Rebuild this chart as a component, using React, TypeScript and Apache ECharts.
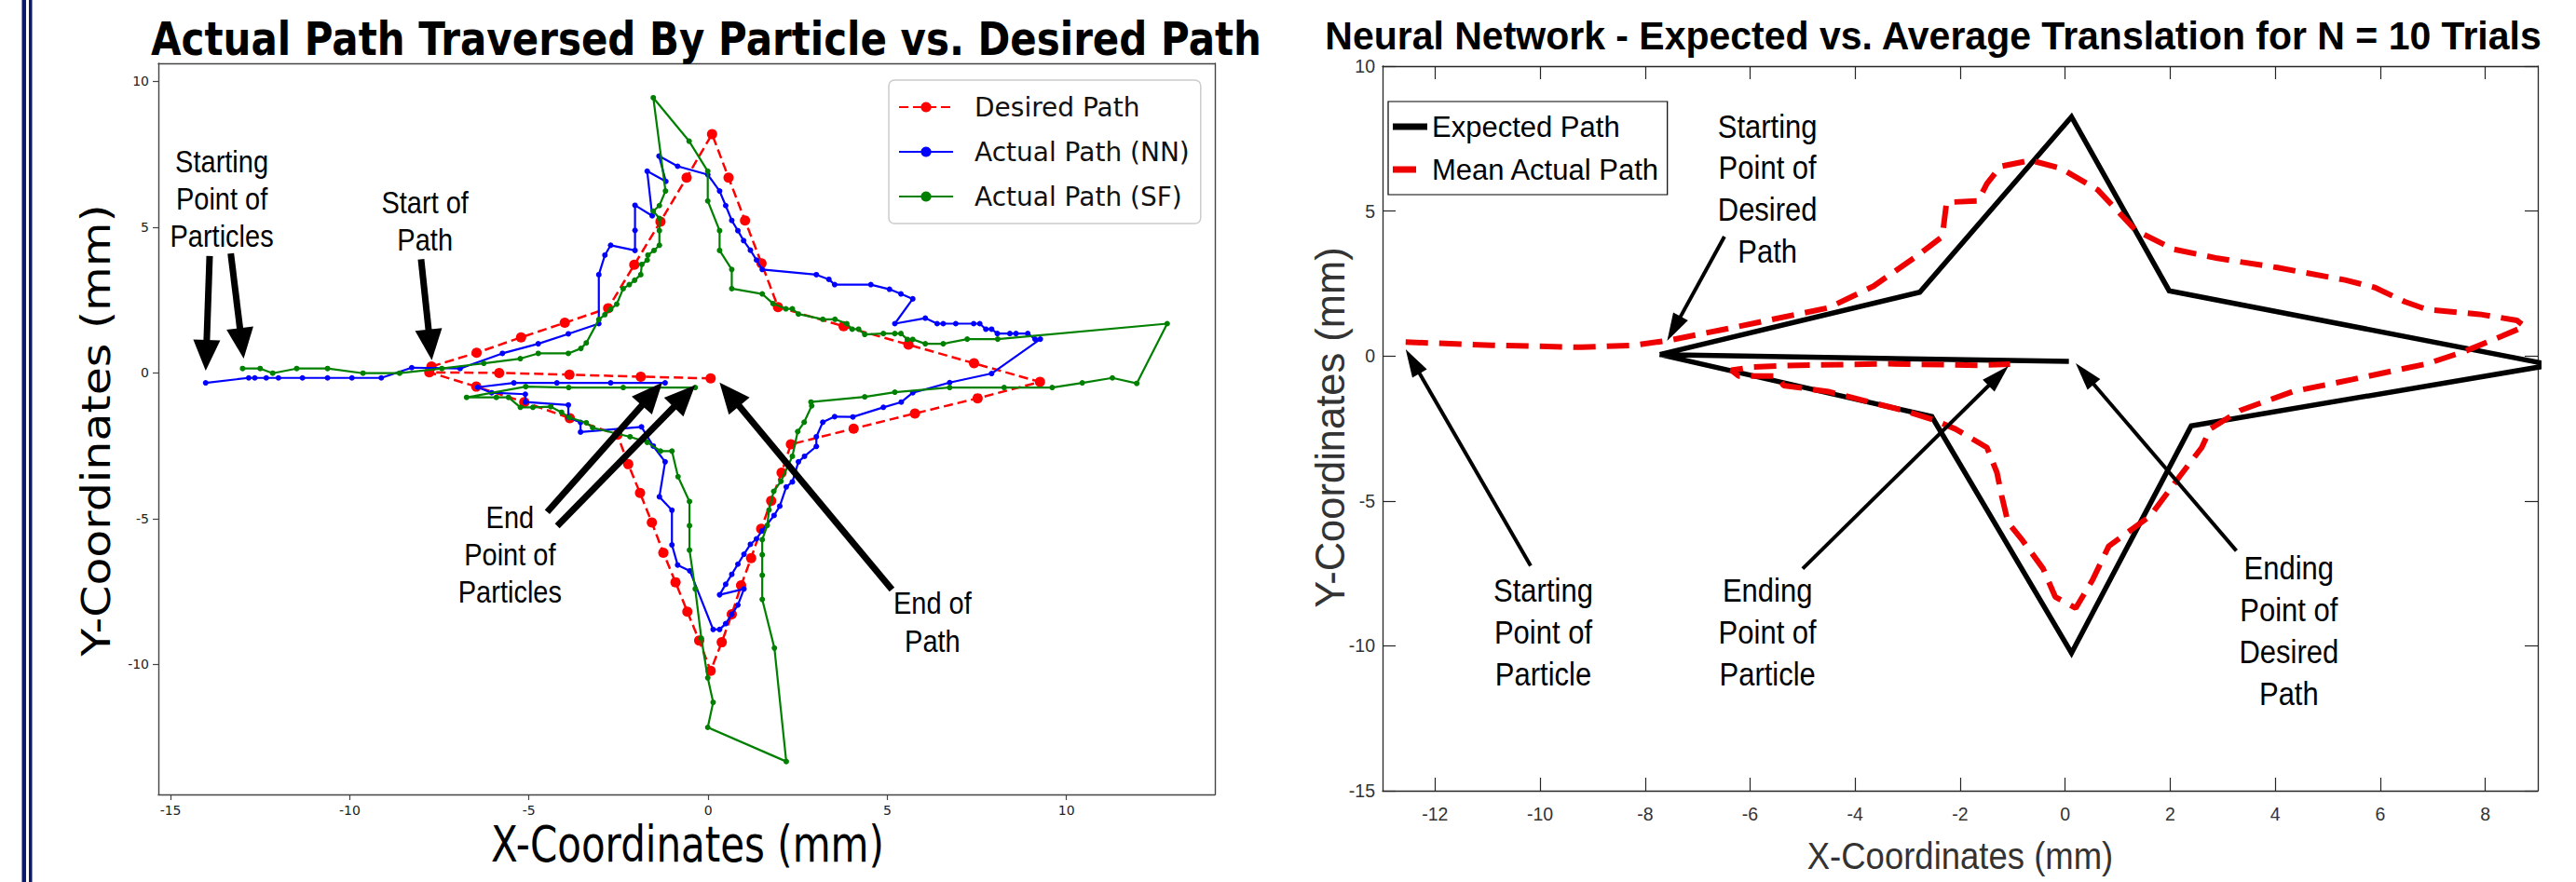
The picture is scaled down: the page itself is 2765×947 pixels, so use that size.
import React, { useEffect, useRef } from "react";
import * as echarts from "echarts";

const W = 2765;
const H = 947;

// ---------- tick values ----------
const leftXTicks = [-15, -10, -5, 0, 5, 10];
const leftYTicks = [-10, -5, 0, 5, 10];
const rightXTicks = [-12, -10, -8, -6, -4, -2, 0, 2, 4, 6, 8];
const rightYTicks = [-15, -10, -5, 0, 5, 10];

// ---------- left chart series ----------
const desiredPath = [
  [-7.72, 0.22], [-6.46, 0.69], [-5.22, 1.22], [-4.0, 1.72], [-2.79, 2.22],
  [-2.06, 3.71], [-1.33, 5.19], [-0.6, 6.7], [0.11, 8.19],
  [0.57, 6.7], [1.03, 5.23], [1.49, 3.76], [1.95, 2.26],
  [3.78, 1.6], [5.59, 0.97], [7.42, 0.33], [9.26, -0.31],
  [7.52, -0.87], [5.77, -1.39], [4.06, -1.91], [2.31, -2.45],
  [2.05, -3.42], [1.76, -4.39], [1.48, -5.35], [1.2, -6.35], [0.92, -7.29], [0.66, -8.28], [0.38, -9.24], [0.07, -10.22],
  [-0.25, -9.18], [-0.58, -8.19], [-0.91, -7.18], [-1.25, -6.17], [-1.57, -5.13], [-1.9, -4.12], [-2.23, -3.13], [-2.53, -2.12],
  [-3.86, -1.55], [-5.13, -1.0], [-6.47, -0.47], [-7.78, 0.02],
  [-5.83, 0.0], [-3.87, -0.06], [-1.88, -0.13], [0.07, -0.19],
];

const nnPath = [
  [-14.02, -0.34], [-12.82, -0.17], [-12.65, -0.17], [-12.33, -0.17], [-11.99, -0.17], [-11.32, -0.17],
  [-10.62, -0.17], [-9.94, -0.17], [-9.12, -0.17], [-8.27, 0.18], [-6.92, 0.15], [-5.74, 0.67],
  [-4.74, 1.0], [-3.9, 1.34], [-3.05, 1.69], [-3.05, 3.37], [-2.88, 4.04], [-2.72, 4.38], [-2.04, 4.2],
  [-2.04, 4.89], [-2.04, 5.75], [-1.56, 5.39], [-1.7, 6.92], [-1.18, 6.57], [-1.37, 7.44], [-0.85, 7.09],
  [-0.01, 6.8], [0.32, 6.24], [0.49, 5.74], [0.66, 5.23], [0.83, 4.88], [0.99, 4.54], [1.18, 4.21],
  [1.35, 3.87], [1.51, 3.55], [3.02, 3.37], [3.37, 3.21], [3.53, 3.03], [4.54, 3.03], [5.06, 2.87],
  [5.38, 2.71], [5.71, 2.54], [5.21, 1.69], [6.06, 1.88], [6.39, 1.69], [6.56, 1.69], [6.91, 1.69],
  [7.41, 1.69], [7.58, 1.69], [7.75, 1.5], [7.91, 1.5], [8.07, 1.35], [8.42, 1.35], [8.59, 1.35],
  [8.92, 1.35], [9.12, 1.16], [9.27, 1.16], [7.91, -0.02], [6.74, -0.33], [5.71, -0.68], [5.39, -1.0],
  [4.89, -1.18], [4.04, -1.51], [3.53, -1.5], [3.2, -1.69], [3.02, -2.19], [3.02, -2.52], [2.69, -2.86],
  [2.52, -3.05], [2.35, -3.74], [2.18, -3.91], [2.0, -4.57], [1.84, -4.89], [1.5, -5.42], [1.35, -5.69],
  [1.18, -5.88], [1.0, -6.22], [0.83, -6.56], [0.66, -6.91], [0.49, -7.25], [0.32, -7.61], [1.0, -7.41],
  [0.83, -7.96], [0.66, -8.28], [0.49, -8.6], [0.32, -8.8], [0.14, -8.8], [-0.51, -6.79], [-0.85, -6.59],
  [-1.01, -5.9], [-1.01, -4.71], [-1.36, -4.25], [-1.2, -3.05], [-1.53, -2.51], [-1.86, -1.85],
  [-3.56, -2.03], [-3.56, -1.7], [-3.9, -1.52], [-3.9, -1.1], [-5.1, -1.0], [-5.1, -0.73], [-6.04, -0.68],
  [-6.43, -0.49], [-5.42, -0.34], [-4.22, -0.34], [-2.72, -0.34], [-1.2, -0.34],
];

const sfPath = [
  [-12.99, 0.15], [-12.5, 0.15], [-12.15, -0.01], [-11.48, 0.15], [-10.62, 0.15], [-9.63, -0.01],
  [-8.61, -0.01], [-7.43, 0.15], [-6.26, 0.33], [-5.24, 0.49], [-4.74, 0.67], [-3.9, 0.67], [-3.55, 0.84],
  [-3.4, 1.03], [-3.05, 1.83], [-2.88, 2.0], [-2.72, 2.18], [-2.55, 2.36], [-2.37, 2.89], [-2.2, 3.03],
  [-2.05, 3.18], [-1.88, 3.37], [-1.85, 3.72], [-1.7, 3.87], [-1.68, 4.04], [-1.51, 4.2], [-1.36, 4.38],
  [-1.36, 4.88], [-1.36, 5.3], [-1.53, 5.55], [-1.36, 5.74], [-1.19, 6.24], [-1.53, 9.44], [-0.53, 7.95],
  [-0.01, 6.92], [-0.01, 5.9], [0.32, 4.88], [0.32, 4.2], [0.66, 3.55], [0.66, 2.89], [1.51, 2.71],
  [1.81, 2.38], [2.17, 2.2], [2.35, 2.2], [2.52, 2.02], [3.2, 1.84], [3.54, 1.84], [3.87, 1.69],
  [4.02, 1.5], [4.2, 1.5], [4.37, 1.32], [4.89, 1.35], [5.21, 1.35], [5.38, 1.35], [5.56, 1.15],
  [5.71, 1.15], [6.06, 1.0], [6.56, 1.0], [7.23, 1.16], [8.08, 1.16], [12.81, 1.69], [11.96, -0.36],
  [11.28, -0.17], [10.44, -0.34], [9.6, -0.5], [8.26, -0.5], [6.74, -0.5], [5.21, -0.66], [4.37, -0.82],
  [2.87, -1.0], [2.89, -1.13], [2.68, -1.69], [2.5, -2.01], [2.35, -2.86], [2.03, -3.72], [1.83, -4.06],
  [1.7, -4.7], [1.65, -5.23], [1.51, -5.72], [1.51, -6.24], [1.51, -6.94], [1.51, -7.77], [1.85, -9.44],
  [2.18, -13.33], [-0.01, -12.16], [0.14, -11.3], [-0.01, -10.46], [-0.19, -9.1], [-0.36, -7.41],
  [-0.52, -6.08], [-0.52, -5.24], [-0.52, -4.41], [-0.84, -3.56], [-1.01, -2.68], [-1.33, -2.68],
  [-1.7, -2.38], [-2.18, -2.19], [-3.22, -1.88], [-3.4, -1.71], [-3.87, -1.53], [-4.09, -1.35],
  [-4.39, -1.16], [-4.89, -1.18], [-5.24, -1.18], [-5.57, -0.84], [-5.91, -0.84], [-6.74, -0.84],
  [-5.09, -0.47], [-3.89, -0.5], [-2.37, -0.5], [-0.36, -0.5],
];

// ---------- right chart series ----------
const expectedPath = [
  [-7.72, 0.05], [-2.77, 2.2], [0.12, 8.25], [1.98, 2.25], [9.26, -0.31], [2.4, -2.41],
  [0.12, -10.25], [-2.54, -2.09], [-7.72, 0.05], [0.07, -0.19],
];

const meanActualPath = [
  [-12.56, 0.48], [-10.92, 0.37], [-9.21, 0.3], [-8.21, 0.37], [-7.57, 0.53], [-6.22, 1.02],
  [-4.51, 1.66], [-3.65, 2.41], [-2.8, 3.48], [-2.34, 4.12], [-2.26, 5.3], [-1.66, 5.35],
  [-1.49, 5.95], [-1.23, 6.54], [-0.66, 6.75], [-0.09, 6.48], [0.62, 5.73], [1.34, 4.34],
  [2.05, 3.69], [2.9, 3.37], [4.04, 3.05], [5.33, 2.62], [5.9, 2.36], [6.47, 1.87], [6.89, 1.6],
  [7.89, 1.44], [8.6, 1.23], [8.75, 1.02], [8.32, 0.69], [7.61, 0.16], [6.89, -0.27], [5.47, -0.81],
  [4.33, -1.23], [3.33, -1.88], [2.76, -2.52], [2.6, -3.16], [2.19, -4.13], [1.62, -5.52],
  [0.83, -6.56], [0.52, -7.73], [0.2, -8.7], [-0.19, -8.31], [-0.42, -7.34], [-0.81, -6.37],
  [-1.09, -5.74], [-1.21, -4.82], [-1.3, -4.02], [-1.49, -3.16], [-2.09, -2.52], [-2.51, -2.2],
  [-3.08, -1.88], [-4.51, -1.23], [-5.36, -1.02], [-5.5, -0.69], [-6.22, -0.69], [-6.36, -0.49],
  [-5.93, -0.38], [-5.08, -0.32], [-3.37, -0.27], [-1.66, -0.32], [-1.05, -0.28],
];

// ---------- annotations (data coordinates) ----------
const leftNotes = [
  { text: "Starting\nPoint of\nParticles", at: [-13.57, 5.96] },
  { text: "Start of\nPath", at: [-7.9, 5.19] },
  { text: "End\nPoint of\nParticles", at: [-5.53, -6.25] },
  { text: "End of\nPath", at: [6.26, -8.56] },
];
const leftArrows = [
  { from: [-13.91, 4.01], to: [-14.02, 0.08] },
  { from: [-13.32, 4.1], to: [-12.96, 0.49] },
  { from: [-8.01, 3.9], to: [-7.71, 0.44] },
  { from: [-4.49, -4.77], to: [-1.28, -0.33] },
  { from: [-4.21, -5.25], to: [-0.36, -0.42] },
  { from: [5.13, -7.43], to: [0.32, -0.33] },
];
const rightNotes = [
  { text: "Starting\nPoint of\nDesired\nPath", at: [-5.67, 5.77] },
  { text: "Starting\nPoint of\nParticle", at: [-9.94, -9.53] },
  { text: "Ending\nPoint of\nParticle", at: [-5.67, -9.53] },
  { text: "Ending\nPoint of\nDesired\nPath", at: [4.26, -9.48] },
];
const rightArrows = [
  { from: [-6.49, 4.12], to: [-7.58, 0.52] },
  { from: [-10.18, -7.24], to: [-12.56, 0.23] },
  { from: [-5.0, -7.34], to: [-1.08, -0.35] },
  { from: [3.26, -6.72], to: [0.2, -0.25] },
];

const leftTitle = "Actual Path Traversed By Particle vs. Desired Path";
const rightTitle = "Neural Network - Expected vs. Average Translation for N = 10 Trials";
const xName = "X-Coordinates (mm)";
const yName = "Y-Coordinates (mm)";

function buildOption(): any {
  const leftLine = { show: true, onZero: false, lineStyle: { color: "#444", width: 1.4 } };
  const rightLine = { show: true, onZero: false, lineStyle: { color: "#262626", width: 1.3 } };
  const leftLabel = { fontSize: 14, color: "#222", fontFamily: "DejaVu Sans" };
  const rightLabel = { fontSize: 19.5, color: "#333", fontFamily: "Liberation Sans" };
  const rTick = { color: "#262626", width: 1.2 };
  return {
    animation: false,
    backgroundColor: "#ffffff",
    grid: [
      { left: 170, top: 68, width: 1134, height: 785 },
      { left: 1484, top: 71, width: 1240, height: 778 },
    ],
    xAxis: [
      {
        type: "value", gridIndex: 0, position: "bottom", min: -15.34, max: 14.14,
        axisLine: leftLine,
        axisTick: { show: true, inside: false, length: 6, customValues: leftXTicks, lineStyle: { color: "#444", width: 1.2 } },
        axisLabel: { show: true, customValues: leftXTicks, margin: 10, ...leftLabel },
        splitLine: { show: false },
      },
      {
        type: "value", gridIndex: 0, position: "top", min: -15.34, max: 14.14,
        axisLine: leftLine, axisTick: { show: false }, axisLabel: { show: false }, splitLine: { show: false },
      },
      {
        type: "value", gridIndex: 1, position: "bottom", min: -13, max: 9,
        axisLine: rightLine,
        axisTick: { show: true, inside: true, length: 14, customValues: rightXTicks, lineStyle: rTick },
        axisLabel: { show: true, customValues: rightXTicks, margin: 15, ...rightLabel },
        splitLine: { show: false },
      },
      {
        type: "value", gridIndex: 1, position: "top", min: -13, max: 9,
        axisLine: rightLine,
        axisTick: { show: true, inside: true, length: 14, customValues: rightXTicks, lineStyle: rTick },
        axisLabel: { show: false }, splitLine: { show: false },
      },
    ],
    yAxis: [
      {
        type: "value", gridIndex: 0, position: "left", min: -14.46, max: 10.62,
        axisLine: leftLine,
        axisTick: { show: true, inside: false, length: 6, customValues: leftYTicks, lineStyle: { color: "#444", width: 1.2 } },
        axisLabel: { show: true, customValues: leftYTicks, margin: 10, ...leftLabel },
        splitLine: { show: false },
      },
      {
        type: "value", gridIndex: 0, position: "right", min: -14.46, max: 10.62,
        axisLine: leftLine, axisTick: { show: false }, axisLabel: { show: false }, splitLine: { show: false },
      },
      {
        type: "value", gridIndex: 1, position: "left", min: -15, max: 10,
        axisLine: rightLine,
        axisTick: { show: true, inside: true, length: 14, customValues: rightYTicks, lineStyle: rTick },
        axisLabel: { show: true, customValues: rightYTicks, margin: 8, ...rightLabel },
        splitLine: { show: false },
      },
      {
        type: "value", gridIndex: 1, position: "right", min: -15, max: 10,
        axisLine: rightLine,
        axisTick: { show: true, inside: true, length: 14, customValues: rightYTicks, lineStyle: rTick },
        axisLabel: { show: false }, splitLine: { show: false },
      },
    ],
    legend: [
      {
        data: ["Desired Path", "Actual Path (NN)", "Actual Path (SF)"],
        orient: "vertical", left: 954, top: 86,
        padding: [12, 12, 12, 10], itemGap: 14, itemWidth: 58, itemHeight: 14,
        backgroundColor: "rgba(255,255,255,0.85)", borderColor: "#cccccc", borderWidth: 1.5, borderRadius: 6,
        selectedMode: false,
        textStyle: { fontSize: 28, fontFamily: "DejaVu Sans", color: "#111", lineHeight: 34, padding: [0, 0, 0, 18] },
      },
      {
        data: [
          { name: "Expected Path", icon: "path://M0 0H37V7H0Z" },
          { name: "Mean Actual Path", icon: "path://M0 0H25V7H0ZM36.9 3.4H37V3.6H36.9Z" },
        ],
        orient: "vertical", left: 1490, top: 109,
        padding: [8, 8, 8, 5], itemGap: 8, itemWidth: 37, itemHeight: 7,
        backgroundColor: "#ffffff", borderColor: "#000000", borderWidth: 1.2, borderRadius: 0,
        selectedMode: false,
        textStyle: { fontSize: 31, fontFamily: "Liberation Sans", color: "#000", lineHeight: 38 },
      },
    ],
    series: [
      {
        type: "line", name: "Desired Path", xAxisIndex: 0, yAxisIndex: 0, data: desiredPath,
        symbol: "circle", symbolSize: 11, z: 2,
        lineStyle: { color: "#ff0000", width: 2.5, type: [10, 5] },
        itemStyle: { color: "#ff0000" },
      },
      {
        type: "line", name: "Actual Path (NN)", xAxisIndex: 0, yAxisIndex: 0, data: nnPath,
        symbol: "circle", symbolSize: 6, z: 3,
        lineStyle: { color: "#0000ff", width: 2.2 },
        itemStyle: { color: "#0000ff" },
      },
      {
        type: "line", name: "Actual Path (SF)", xAxisIndex: 0, yAxisIndex: 0, data: sfPath,
        symbol: "circle", symbolSize: 6, z: 4,
        lineStyle: { color: "#008000", width: 2.2 },
        itemStyle: { color: "#008000" },
      },
      {
        type: "line", name: "Expected Path", xAxisIndex: 2, yAxisIndex: 2, data: expectedPath,
        symbol: "none", z: 2, clip: true,
        lineStyle: { color: "#000000", width: 5.5, join: "miter" },
        itemStyle: { color: "#000000" },
      },
      {
        type: "line", name: "Mean Actual Path", xAxisIndex: 2, yAxisIndex: 2, data: meanActualPath,
        symbol: "none", z: 3, clip: true,
        lineStyle: { color: "#ee0000", width: 6, type: [24, 12] },
        itemStyle: { color: "#ee0000" },
      },
    ],
  };
}

function arrowEls(p0: number[], p1: number[], hl: number, hw: number, sw: number): any[] {
  const dx = p1[0] - p0[0];
  const dy = p1[1] - p0[1];
  const len = Math.hypot(dx, dy) || 1;
  const ux = dx / len;
  const uy = dy / len;
  const bx = p1[0] - ux * hl;
  const by = p1[1] - uy * hl;
  const nx = -uy;
  const ny = ux;
  return [
    {
      type: "line", z: 100,
      shape: { x1: p0[0], y1: p0[1], x2: bx + ux * 3, y2: by + uy * 3 },
      style: { stroke: "#000", lineWidth: sw },
    },
    {
      type: "polygon", z: 100,
      shape: { points: [[p1[0], p1[1]], [bx + nx * hw, by + ny * hw], [bx - nx * hw, by - ny * hw]] },
      style: { fill: "#000" },
    },
  ];
}

function buildGraphics(chart: any): any[] {
  const px = (gi: number, p: number[]) => chart.convertToPixel({ gridIndex: gi }, p) as number[];
  const els: any[] = [];

  // left page decoration
  els.push({ type: "rect", z: 50, shape: { x: 23.5, y: 0, width: 4.5, height: H }, style: { fill: "#0c1a6e" } });
  els.push({ type: "rect", z: 50, shape: { x: 31, y: 0, width: 3.5, height: H }, style: { fill: "#0c1a6e" } });

  // titles
  els.push({
    type: "text", z: 100, x: 758, y: 42, scaleY: 1.2,
    style: { text: leftTitle, fontSize: 42, fontWeight: "bold", fontFamily: "DejaVu Sans", fill: "#000", align: "center", verticalAlign: "middle" },
  });
  els.push({
    type: "text", z: 100, x: 2075, y: 38, scaleY: 1.05,
    style: { text: rightTitle, fontSize: 41, fontWeight: "bold", fontFamily: "Liberation Sans", fill: "#000", align: "center", verticalAlign: "middle" },
  });

  // axis names
  els.push({
    type: "text", z: 100, x: 738, y: 907, scaleY: 1.25,
    style: { text: xName, fontSize: 42, fontFamily: "DejaVu Sans", fill: "#000", align: "center", verticalAlign: "middle" },
  });
  els.push({
    type: "text", z: 100, x: 103, y: 462, rotation: Math.PI / 2, scaleX: 1.14,
    style: { text: yName, fontSize: 43, fontFamily: "DejaVu Sans", fill: "#000", align: "center", verticalAlign: "middle" },
  });
  els.push({
    type: "text", z: 100, x: 2104, y: 919, scaleY: 1.1,
    style: { text: xName, fontSize: 36.5, fontFamily: "Liberation Sans", fill: "#333", align: "center", verticalAlign: "middle" },
  });
  els.push({
    type: "text", z: 100, x: 1428, y: 459, rotation: Math.PI / 2,
    style: { text: yName, fontSize: 43.5, fontFamily: "Liberation Sans", fill: "#333", align: "center", verticalAlign: "middle" },
  });

  // annotations
  leftNotes.forEach((n) => {
    const p = px(0, n.at);
    els.push({
      type: "text", z: 100, x: p[0], y: p[1], scaleY: 1.15,
      style: { text: n.text, fontSize: 29, lineHeight: 35, fontFamily: "Liberation Sans", fill: "#000", align: "center", verticalAlign: "middle" },
    });
  });
  leftArrows.forEach((a) => {
    els.push(...arrowEls(px(0, a.from), px(0, a.to), 33, 14.5, 7));
  });
  rightNotes.forEach((n) => {
    const p = px(1, n.at);
    els.push({
      type: "text", z: 100, x: p[0], y: p[1], scaleY: 1.15,
      style: { text: n.text, fontSize: 31, lineHeight: 39, fontFamily: "Liberation Sans", fill: "#000", align: "center", verticalAlign: "middle" },
    });
  });
  rightArrows.forEach((a) => {
    els.push(...arrowEls(px(1, a.from), px(1, a.to), 30, 9, 4));
  });
  return els;
}

export default function App() {
  const ref = useRef<HTMLDivElement>(null);
  useEffect(() => {
    if (!ref.current) return;
    const chart = echarts.init(ref.current, null, { renderer: "svg", width: W, height: H });
    chart.setOption(buildOption());
    chart.setOption({ graphic: buildGraphics(chart) });
    return () => {
      chart.dispose();
    };
  }, []);
  return (
    <div
      ref={ref}
      style={{ position: "fixed", left: 0, top: 0, width: W, height: H, background: "#ffffff" }}
    />
  );
}
